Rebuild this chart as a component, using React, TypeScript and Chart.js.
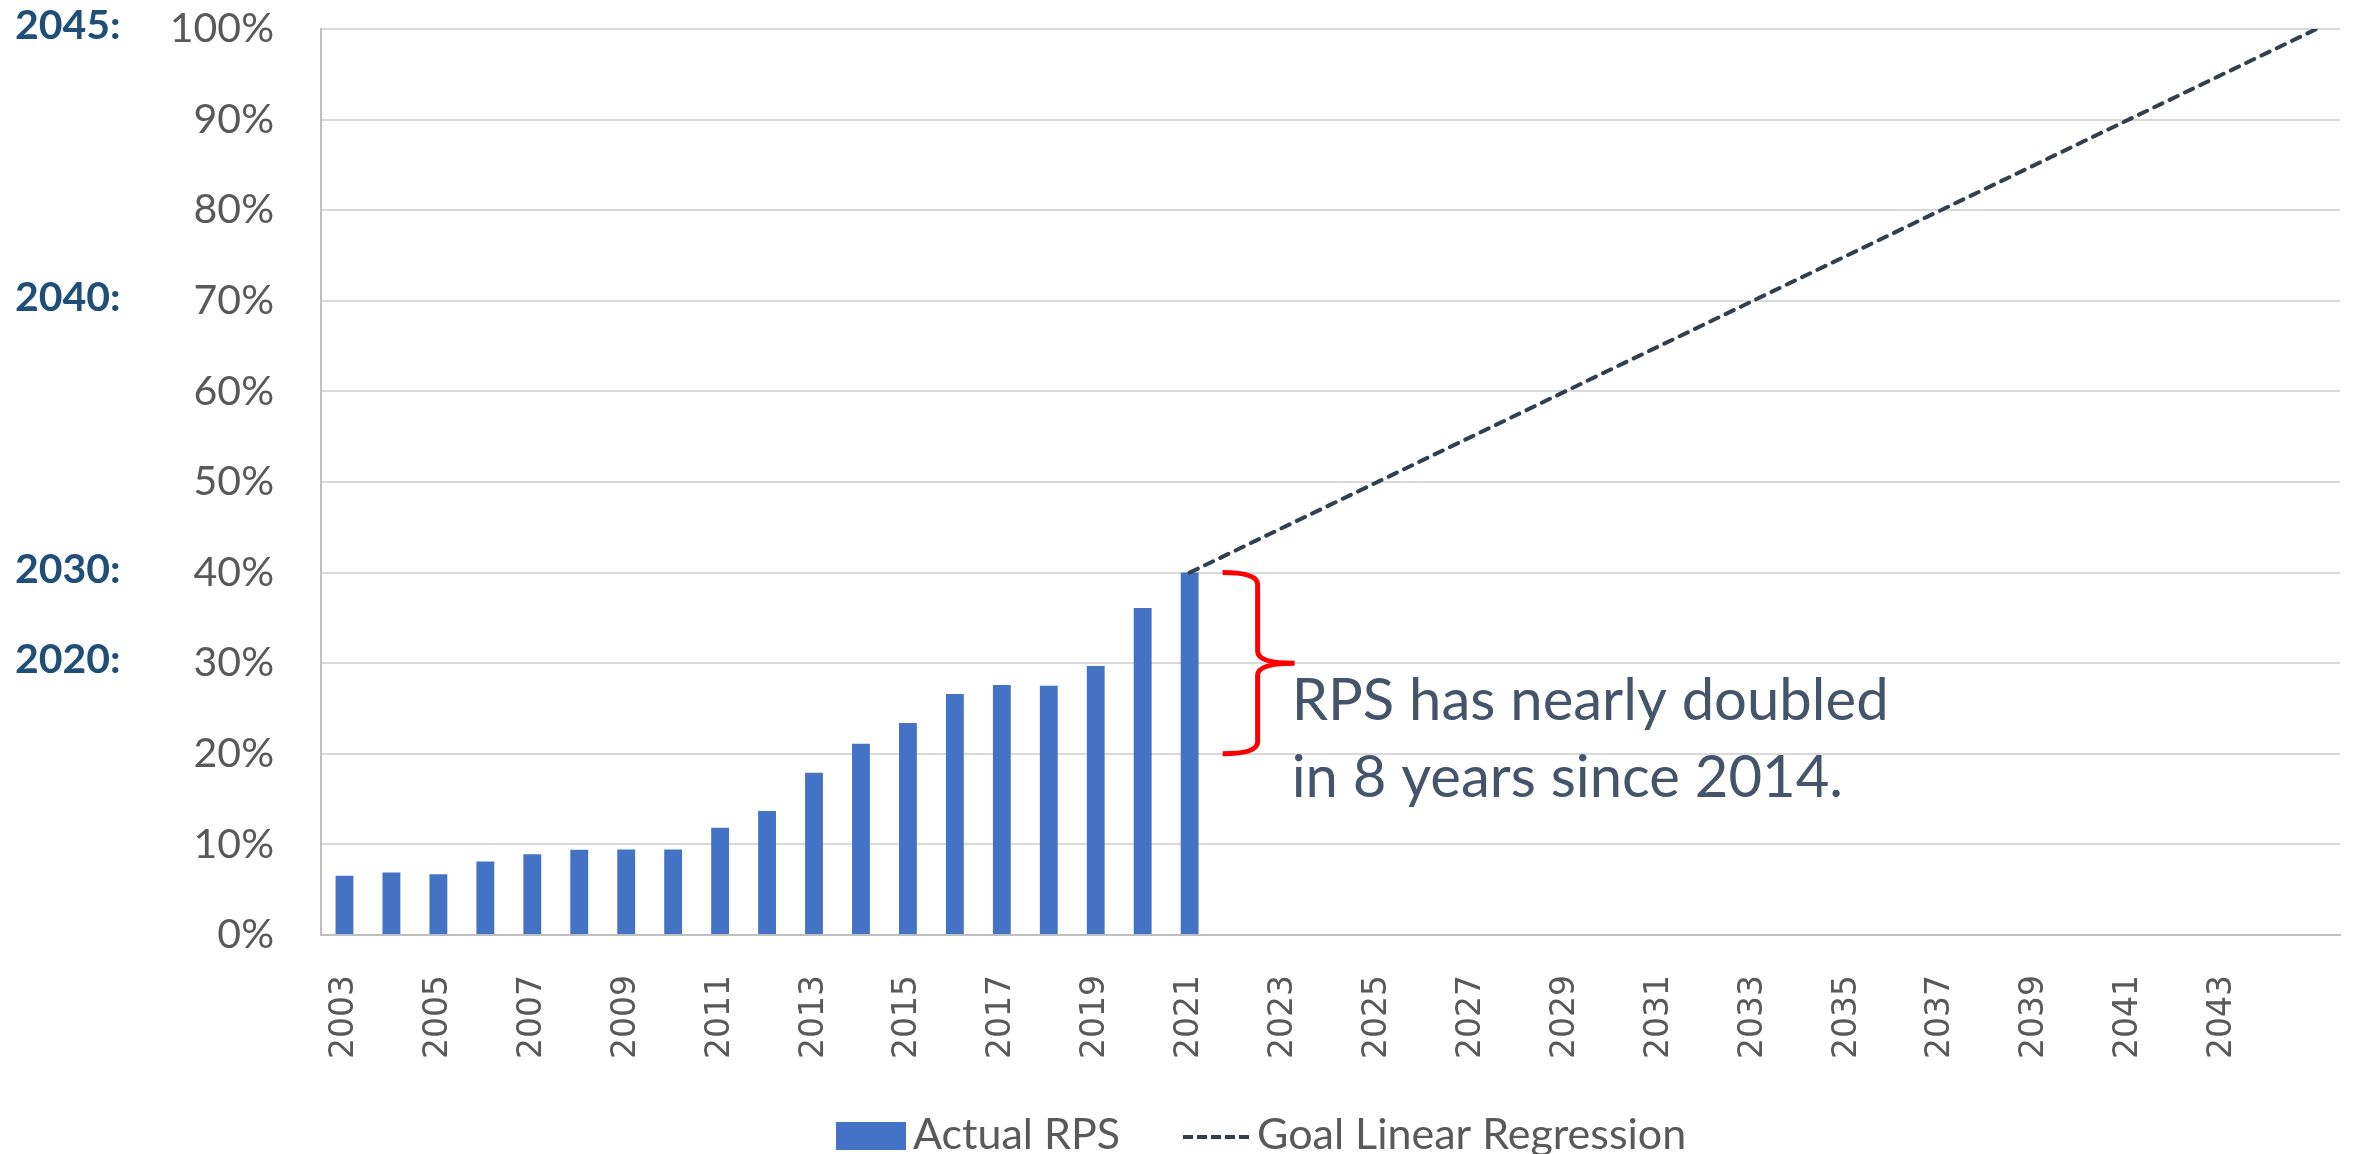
import React, { useEffect, useRef } from 'react';
import { Chart, registerables } from 'chart.js';

Chart.register(...registerables);

const categories = [
  '2003', '2004', '2005', '2006', '2007', '2008', '2009', '2010', '2011', '2012',
  '2013', '2014', '2015', '2016', '2017', '2018', '2019', '2020', '2021', '2022',
  '2023', '2024', '2025', '2026', '2027', '2028', '2029', '2030', '2031', '2032',
  '2033', '2034', '2035', '2036', '2037', '2038', '2039', '2040', '2041', '2042',
  '2043', '2044', '2045',
];

const actualRPS = [
  6.55, 6.9, 6.7, 8.1, 8.9, 9.4, 9.45, 9.45, 11.85, 13.7,
  17.9, 21.1, 23.4, 26.6, 27.6, 27.5, 29.7, 36.1, 40.0,
];

const goalYears = ['2021', '2045'];
const goalValues = [40, 100];

const milestoneLabels = ['2045:', '2040:', '2030:', '2020:'];
const milestoneValues = [100, 70, 40, 30];

const braceYear = '2021';
const braceTop = 40;
const braceBottom = 20;
const annotationLines = ['RPS has nearly doubled', 'in 8 years since 2014.'];

const seriesLabels = ['Actual RPS', 'Goal Linear Regression'];

const BAR_COLOR = '#4472c4';
const LINE_COLOR = '#323f4f';

const overlayPlugin = {
  id: 'overlay',
  afterDraw(chart: any) {
    const { ctx } = chart;
    const x = chart.scales.x;
    const y = chart.scales.y;
    ctx.save();

    // milestone labels at the far left
    ctx.font = 'bold 41px Lato';
    ctx.fillStyle = '#1f4e79';
    ctx.textAlign = 'left';
    ctx.textBaseline = 'middle';
    milestoneLabels.forEach((t, i) => {
      ctx.fillText(t, 15, y.getPixelForValue(milestoneValues[i]) - 3);
    });

    // brace
    const bx = x.getPixelForValue(categories.indexOf(braceYear));
    const yT = y.getPixelForValue(braceTop);
    const yB = y.getPixelForValue(braceBottom);
    const yM = (yT + yB) / 2;
    const x0 = bx + 33;
    const xs = bx + 68;
    const xp = bx + 105;
    ctx.strokeStyle = '#ff0000';
    ctx.lineWidth = 5;
    ctx.lineJoin = 'round';
    ctx.beginPath();
    ctx.moveTo(x0, yT);
    ctx.quadraticCurveTo(xs, yT, xs, yT + 12);
    ctx.lineTo(xs, yM - 12);
    ctx.quadraticCurveTo(xs, yM, xp, yM);
    ctx.moveTo(xp, yM);
    ctx.quadraticCurveTo(xs, yM, xs, yM + 12);
    ctx.lineTo(xs, yB - 12);
    ctx.quadraticCurveTo(xs, yB, x0, yB);
    ctx.stroke();

    // annotation text
    ctx.font = '58px Lato';
    ctx.fillStyle = '#44546a';
    ctx.textAlign = 'left';
    ctx.textBaseline = 'alphabetic';
    ctx.fillText(annotationLines[0], xp - 3, yM + 57);
    ctx.fillText(annotationLines[1], xp - 3, yM + 134);

    // legend
    const ly = 1135;
    ctx.fillStyle = BAR_COLOR;
    ctx.fillRect(836, ly - 13, 70, 28);
    ctx.font = '43px Lato';
    ctx.fillStyle = '#595959';
    ctx.textBaseline = 'alphabetic';
    ctx.fillText(chart.data.datasets[0].label, 913, ly + 14);
    ctx.strokeStyle = LINE_COLOR;
    ctx.lineWidth = 4;
    ctx.setLineDash([10, 4]);
    ctx.beginPath();
    ctx.moveTo(1183, ly + 2);
    ctx.lineTo(1251, ly + 2);
    ctx.stroke();
    ctx.setLineDash([]);
    ctx.fillText(chart.data.datasets[1].label, 1257, ly + 14);

    ctx.restore();
  },
};

export default function App() {
  const ref = useRef<HTMLCanvasElement | null>(null);

  useEffect(() => {
    if (!ref.current) return;
    const goalData = categories.map((c) => {
      const i = goalYears.indexOf(c);
      return i >= 0 ? goalValues[i] : null;
    });
    const chart = new Chart(ref.current, {
      type: 'bar',
      data: {
        labels: categories,
        datasets: [
          {
            type: 'bar',
            label: seriesLabels[0],
            data: actualRPS,
            backgroundColor: BAR_COLOR,
            barPercentage: 0.38,
            categoryPercentage: 1,
            order: 2,
          },
          {
            type: 'line',
            label: seriesLabels[1],
            data: goalData,
            borderColor: LINE_COLOR,
            borderWidth: 4,
            borderDash: [9, 8],
            borderCapStyle: 'round',
            pointRadius: 0,
            spanGaps: true,
            fill: false,
            order: 1,
          } as any,
        ],
      },
      options: {
        responsive: false,
        animation: false,
        layout: { padding: { top: 29, right: 16, left: 0, bottom: 0 } },
        plugins: {
          legend: { display: false },
          tooltip: { enabled: false },
        },
        scales: {
          x: {
            grid: { display: false },
            border: { display: true, color: '#bfbfbf', width: 2 },
            ticks: {
              autoSkip: false,
              maxRotation: 90,
              minRotation: 90,
              padding: 32,
              color: '#595959',
              font: { family: 'DejaVu Sans', size: 33 },
              callback: (_v: any, idx: number) =>
                idx % 2 === 0 && idx < categories.length - 1 ? categories[idx] : '',
            },
            afterFit: (scale: any) => {
              scale.height = 219;
              scale.paddingLeft = 0;
              scale.paddingRight = 0;
            },
          },
          y: {
            min: 0,
            max: 100,
            grid: { color: '#d9d9d9', lineWidth: 2, drawTicks: false },
            border: { display: true, color: '#bfbfbf', width: 2 },
            ticks: {
              stepSize: 10,
              padding: 47,
              color: '#595959',
              font: { family: 'Lato', size: 41 },
              callback: (v: any) => v + '%',
            },
            afterFit: (scale: any) => {
              scale.width = 321;
              scale.paddingTop = 0;
              scale.paddingBottom = 0;
            },
          },
        },
      },
      plugins: [overlayPlugin],
    });
    return () => chart.destroy();
  }, []);

  return (
    <div style={{ position: 'fixed', left: 0, top: 0, width: 2356, height: 1154, background: '#fff' }}>
      <canvas ref={ref} width={2356} height={1154} style={{ display: 'block' }} />
    </div>
  );
}
